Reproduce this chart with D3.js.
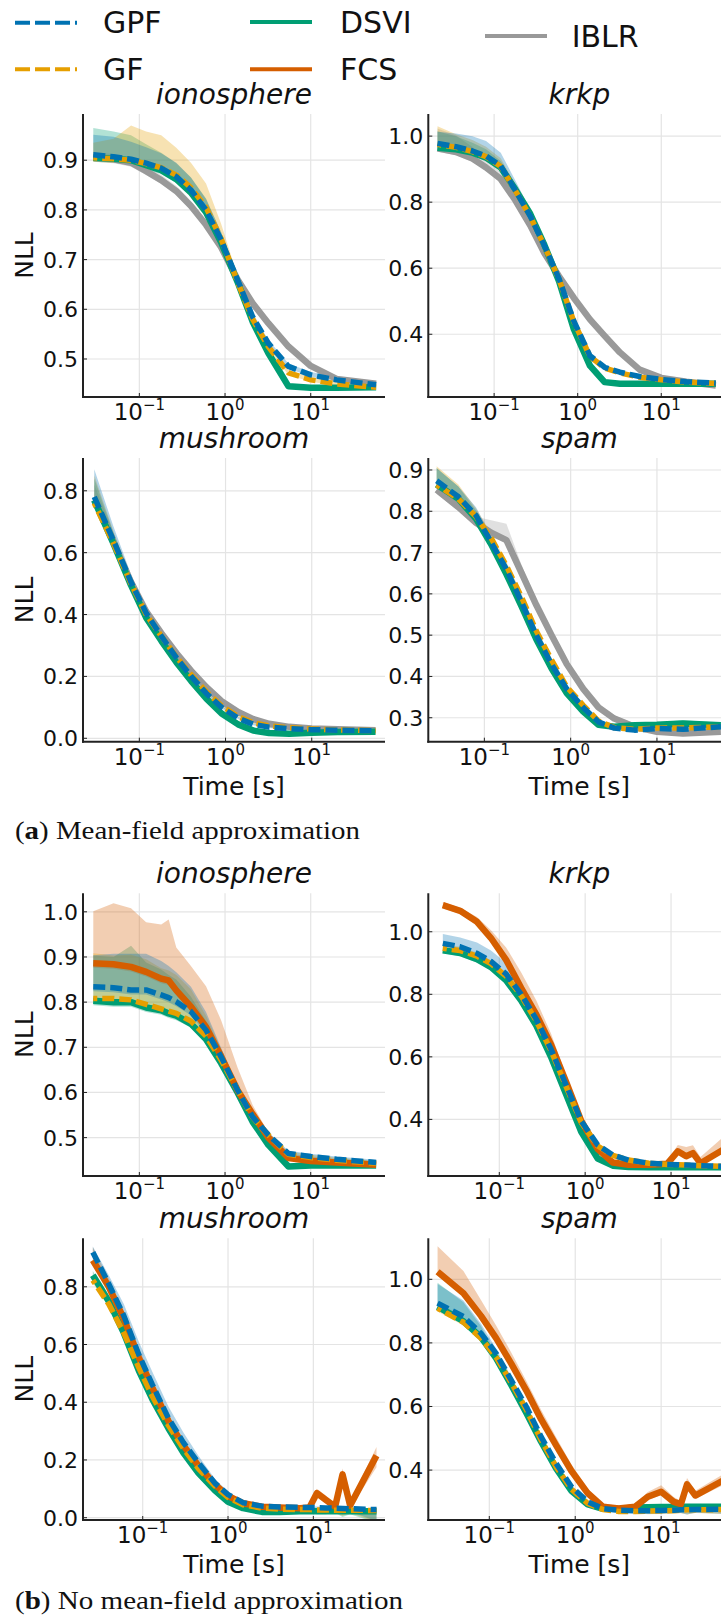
<!DOCTYPE html>
<html>
<head>
<meta charset="utf-8">
<script src="https://cdnjs.cloudflare.com/ajax/libs/d3/7.8.5/d3.min.js"></script>
<style>
body { margin: 0; background: #fff; }
text { font-family: "DejaVu Sans", sans-serif; fill: #111; }
</style>
</head>
<body>
<script>
// ---- data (time in seconds, NLL) ----
var ionoA_t    = [0.029, 0.05, 0.08, 0.12, 0.18, 0.27, 0.4, 0.6, 0.9, 1.4, 2.1, 3.2, 5.5, 10, 20, 58];
var ionoA_GPF  = [0.911, 0.907, 0.902, 0.894, 0.884, 0.867, 0.840, 0.800, 0.740, 0.659, 0.585, 0.532, 0.485, 0.468, 0.458, 0.448];
var ionoA_GPF_up = [0.04, 0.04, 0.035, 0.032, 0.03, 0.028, 0.025, 0.022, 0.015, 0.01, 0.008, 0.006, 0.006, 0.006, 0.006, 0.006];
var ionoA_GF   = [0.905, 0.903, 0.900, 0.893, 0.885, 0.870, 0.845, 0.805, 0.742, 0.655, 0.580, 0.525, 0.472, 0.458, 0.450, 0.443];
var ionoA_GF_up = [0.03, 0.04, 0.07, 0.065, 0.065, 0.055, 0.05, 0.048, 0.03, 0.012, 0.008, 0.006, 0.006, 0.005, 0.005, 0.005];
var ionoA_DSVI = [0.905, 0.903, 0.900, 0.890, 0.880, 0.862, 0.835, 0.795, 0.735, 0.655, 0.575, 0.512, 0.445, 0.442, 0.442, 0.443];
var ionoA_DSVI_up = [0.06, 0.055, 0.05, 0.042, 0.035, 0.032, 0.03, 0.028, 0.02, 0.01, 0.006, 0.004, 0.003, 0.003, 0.003, 0.003];
var ionoA_IBLR = [0.905, 0.902, 0.895, 0.878, 0.860, 0.838, 0.808, 0.770, 0.725, 0.660, 0.612, 0.572, 0.525, 0.486, 0.460, 0.450];
var ionoA_IBLR_up = [0.012, 0.01, 0.01, 0.01, 0.01, 0.01, 0.01, 0.008, 0.006, 0.005, 0.005, 0.005, 0.005, 0.005, 0.005, 0.005];
var ionoA_dn   = [0.008, 0.008, 0.008, 0.008, 0.008, 0.008, 0.008, 0.006, 0.006, 0.005, 0.005, 0.004, 0.004, 0.004, 0.004, 0.004];

var krkpA_t    = [0.021, 0.035, 0.055, 0.08, 0.12, 0.18, 0.27, 0.4, 0.6, 0.9, 1.4, 2.1, 3.2, 5.5, 10, 20, 45];
var krkpA_GPF  = [0.978, 0.968, 0.955, 0.940, 0.910, 0.835, 0.758, 0.668, 0.567, 0.440, 0.335, 0.300, 0.285, 0.272, 0.263, 0.256, 0.252];
var krkpA_GPF_up = [0.035, 0.04, 0.045, 0.045, 0.04, 0.03, 0.02, 0.012, 0.008, 0.006, 0.005, 0.004, 0.004, 0.003, 0.003, 0.003, 0.003];
var krkpA_GF   = [0.975, 0.966, 0.953, 0.938, 0.908, 0.834, 0.757, 0.667, 0.565, 0.438, 0.333, 0.298, 0.283, 0.270, 0.262, 0.255, 0.251];
var krkpA_GF_up = [0.055, 0.04, 0.035, 0.03, 0.025, 0.02, 0.015, 0.01, 0.008, 0.006, 0.005, 0.004, 0.004, 0.003, 0.003, 0.003, 0.003];
var krkpA_DSVI = [0.965, 0.960, 0.950, 0.935, 0.905, 0.838, 0.765, 0.670, 0.560, 0.415, 0.305, 0.255, 0.250, 0.250, 0.250, 0.250, 0.250];
var krkpA_DSVI_up = [0.05, 0.04, 0.03, 0.025, 0.02, 0.015, 0.01, 0.008, 0.006, 0.005, 0.004, 0.003, 0.003, 0.003, 0.003, 0.003, 0.003];
var krkpA_IBLR = [0.963, 0.952, 0.932, 0.905, 0.870, 0.805, 0.730, 0.645, 0.575, 0.510, 0.445, 0.395, 0.345, 0.293, 0.268, 0.256, 0.245];
var krkpA_IBLR_up = [0.06, 0.05, 0.035, 0.025, 0.02, 0.015, 0.01, 0.008, 0.006, 0.005, 0.005, 0.005, 0.005, 0.005, 0.005, 0.005, 0.005];
var krkpA_dn   = [0.01, 0.01, 0.01, 0.008, 0.008, 0.006, 0.006, 0.005, 0.005, 0.004, 0.004, 0.003, 0.003, 0.003, 0.003, 0.003, 0.003];

var mushA_t    = [0.03, 0.05, 0.08, 0.12, 0.18, 0.27, 0.4, 0.6, 0.9, 1.4, 2.1, 3.2, 5.5, 10, 20, 55];
var mushA_GPF  = [0.78, 0.64, 0.505, 0.405, 0.33, 0.26, 0.20, 0.145, 0.10, 0.065, 0.045, 0.036, 0.031, 0.028, 0.026, 0.024];
var mushA_GPF_up = [0.09, 0.045, 0.025, 0.015, 0.012, 0.01, 0.008, 0.006, 0.005, 0.004, 0.003, 0.003, 0.003, 0.003, 0.003, 0.003];
var mushA_GF   = [0.76, 0.63, 0.50, 0.40, 0.33, 0.262, 0.205, 0.15, 0.105, 0.07, 0.05, 0.04, 0.034, 0.03, 0.027, 0.025];
var mushA_GF_up = [0.09, 0.04, 0.02, 0.012, 0.01, 0.008, 0.006, 0.005, 0.004, 0.003, 0.003, 0.003, 0.003, 0.003, 0.003, 0.003];
var mushA_DSVI = [0.77, 0.63, 0.495, 0.39, 0.315, 0.245, 0.185, 0.128, 0.08, 0.045, 0.025, 0.017, 0.015, 0.018, 0.02, 0.021];
var mushA_DSVI_up = [0.07, 0.035, 0.02, 0.012, 0.01, 0.008, 0.008, 0.008, 0.008, 0.006, 0.005, 0.004, 0.004, 0.004, 0.004, 0.004];
var mushA_IBLR = [0.77, 0.635, 0.505, 0.41, 0.34, 0.275, 0.218, 0.165, 0.12, 0.085, 0.062, 0.047, 0.037, 0.032, 0.029, 0.026];
var mushA_IBLR_up = [0.05, 0.03, 0.015, 0.012, 0.012, 0.012, 0.012, 0.012, 0.01, 0.008, 0.006, 0.005, 0.004, 0.004, 0.004, 0.004];
var mushA_dn   = [0.015, 0.01, 0.008, 0.006, 0.005, 0.005, 0.004, 0.004, 0.004, 0.003, 0.003, 0.003, 0.003, 0.003, 0.003, 0.003];

var spamA_t    = [0.028, 0.05, 0.08, 0.12, 0.18, 0.27, 0.4, 0.6, 0.9, 1.4, 2.1, 3.2, 5.5, 10, 20, 55];
var spamA_GPF  = [0.874, 0.835, 0.79, 0.725, 0.66, 0.58, 0.50, 0.43, 0.37, 0.325, 0.29, 0.275, 0.27, 0.274, 0.272, 0.278];
var spamA_GPF_up = [0.03, 0.025, 0.02, 0.015, 0.01, 0.008, 0.006, 0.005, 0.004, 0.004, 0.004, 0.004, 0.004, 0.004, 0.004, 0.004];
var spamA_GF   = [0.864, 0.83, 0.787, 0.735, 0.668, 0.592, 0.51, 0.44, 0.375, 0.33, 0.292, 0.276, 0.272, 0.275, 0.275, 0.278];
var spamA_GF_up = [0.045, 0.035, 0.02, 0.012, 0.01, 0.008, 0.006, 0.005, 0.004, 0.004, 0.004, 0.004, 0.004, 0.004, 0.004, 0.004];
var spamA_DSVI = [0.865, 0.83, 0.782, 0.72, 0.648, 0.57, 0.49, 0.42, 0.36, 0.315, 0.283, 0.278, 0.282, 0.283, 0.286, 0.282];
var spamA_DSVI_up = [0.04, 0.03, 0.02, 0.012, 0.008, 0.006, 0.005, 0.005, 0.004, 0.004, 0.004, 0.005, 0.006, 0.006, 0.008, 0.006];
var spamA_IBLR = [0.852, 0.81, 0.772, 0.748, 0.73, 0.65, 0.573, 0.50, 0.43, 0.37, 0.325, 0.298, 0.278, 0.266, 0.262, 0.266];
var spamA_IBLR_up = [0.02, 0.015, 0.015, 0.03, 0.04, 0.02, 0.012, 0.01, 0.008, 0.008, 0.008, 0.008, 0.008, 0.008, 0.008, 0.008];
var spamA_dn   = [0.01, 0.008, 0.006, 0.005, 0.005, 0.004, 0.004, 0.004, 0.004, 0.004, 0.004, 0.004, 0.004, 0.004, 0.004, 0.004];

var ionoB_t    = [0.029, 0.05, 0.08, 0.12, 0.18, 0.22, 0.27, 0.4, 0.6, 0.9, 1.4, 2.1, 3.2, 5.5, 10, 20, 58];
var ionoB_GPF  = [0.834, 0.832, 0.827, 0.827, 0.816, 0.81, 0.801, 0.779, 0.738, 0.679, 0.605, 0.546, 0.506, 0.465, 0.458, 0.452, 0.445];
var ionoB_GPF_up = [0.07, 0.075, 0.08, 0.08, 0.075, 0.07, 0.065, 0.055, 0.04, 0.02, 0.01, 0.008, 0.006, 0.006, 0.006, 0.006, 0.006];
var ionoB_GF   = [0.808, 0.808, 0.805, 0.795, 0.785, 0.78, 0.775, 0.758, 0.725, 0.672, 0.605, 0.545, 0.506, 0.463, 0.456, 0.450, 0.443];
var ionoB_GF_up = [0.1, 0.095, 0.1, 0.1, 0.09, 0.09, 0.085, 0.07, 0.045, 0.025, 0.012, 0.008, 0.006, 0.006, 0.006, 0.006, 0.006];
var ionoB_DSVI = [0.803, 0.80, 0.80, 0.788, 0.782, 0.775, 0.770, 0.752, 0.718, 0.665, 0.600, 0.535, 0.484, 0.436, 0.438, 0.438, 0.438];
var ionoB_DSVI_up = [0.1, 0.1, 0.125, 0.1, 0.09, 0.085, 0.08, 0.06, 0.04, 0.025, 0.01, 0.008, 0.006, 0.006, 0.006, 0.006, 0.006];
var ionoB_FCS  = [0.886, 0.884, 0.878, 0.867, 0.852, 0.848, 0.826, 0.79, 0.745, 0.68, 0.605, 0.552, 0.50, 0.455, 0.448, 0.445, 0.44];
var ionoB_FCS_up = [0.115, 0.135, 0.13, 0.11, 0.12, 0.135, 0.095, 0.09, 0.09, 0.08, 0.05, 0.02, 0.012, 0.01, 0.01, 0.008, 0.008];
var ionoB_dn   = [0.01, 0.01, 0.01, 0.01, 0.01, 0.01, 0.01, 0.008, 0.008, 0.006, 0.005, 0.005, 0.004, 0.004, 0.004, 0.004, 0.004];

var krkpB_t    = [0.022, 0.035, 0.055, 0.08, 0.12, 0.18, 0.27, 0.4, 0.6, 0.9, 1.4, 2.1, 3.2, 5.5, 9, 12, 15, 18, 22, 40];
var krkpB_GPF  = [0.963, 0.952, 0.931, 0.905, 0.865, 0.80, 0.72, 0.625, 0.51, 0.395, 0.318, 0.286, 0.27, 0.26, 0.256, 0.255, 0.254, 0.253, 0.252, 0.25];
var krkpB_GPF_up = [0.03, 0.03, 0.035, 0.035, 0.035, 0.03, 0.02, 0.012, 0.008, 0.006, 0.005, 0.004, 0.004, 0.004, 0.004, 0.004, 0.004, 0.004, 0.004, 0.004];
var krkpB_GF   = [0.947, 0.94, 0.922, 0.898, 0.858, 0.795, 0.715, 0.62, 0.505, 0.39, 0.315, 0.285, 0.27, 0.26, 0.256, 0.255, 0.254, 0.253, 0.252, 0.25];
var krkpB_GF_up = [0.012, 0.012, 0.012, 0.01, 0.01, 0.01, 0.008, 0.006, 0.005, 0.005, 0.004, 0.004, 0.004, 0.004, 0.004, 0.004, 0.004, 0.004, 0.004, 0.004];
var krkpB_DSVI = [0.941, 0.932, 0.912, 0.887, 0.845, 0.78, 0.70, 0.60, 0.48, 0.36, 0.275, 0.252, 0.248, 0.247, 0.247, 0.247, 0.247, 0.247, 0.247, 0.247];
var krkpB_DSVI_up = [0.01, 0.01, 0.01, 0.01, 0.01, 0.008, 0.008, 0.006, 0.005, 0.005, 0.004, 0.003, 0.003, 0.003, 0.003, 0.003, 0.003, 0.003, 0.003, 0.003];
var krkpB_FCS  = [1.085, 1.067, 1.032, 0.98, 0.91, 0.82, 0.735, 0.64, 0.52, 0.395, 0.305, 0.262, 0.255, 0.255, 0.258, 0.298, 0.282, 0.292, 0.26, 0.302];
var krkpB_FCS_up = [0.01, 0.01, 0.015, 0.025, 0.04, 0.05, 0.045, 0.035, 0.02, 0.01, 0.008, 0.006, 0.006, 0.006, 0.01, 0.02, 0.03, 0.025, 0.02, 0.04];
var krkpB_dn   = [0.01, 0.01, 0.01, 0.008, 0.008, 0.008, 0.006, 0.005, 0.005, 0.004, 0.004, 0.003, 0.003, 0.003, 0.003, 0.008, 0.008, 0.008, 0.008, 0.01];

var mushB_t    = [0.026, 0.04, 0.06, 0.09, 0.13, 0.2, 0.3, 0.45, 0.7, 1.0, 1.5, 2.5, 4, 7, 9, 11, 14, 18, 22, 27, 55];
var mushB_GPF  = [0.92, 0.81, 0.70, 0.565, 0.46, 0.345, 0.26, 0.19, 0.12, 0.08, 0.052, 0.04, 0.037, 0.036, 0.035, 0.035, 0.034, 0.033, 0.032, 0.031, 0.028];
var mushB_GPF_up = [0.02, 0.03, 0.04, 0.045, 0.045, 0.04, 0.035, 0.025, 0.015, 0.01, 0.006, 0.005, 0.004, 0.004, 0.004, 0.004, 0.004, 0.004, 0.004, 0.004, 0.004];
var mushB_GF   = [0.823, 0.74, 0.64, 0.52, 0.42, 0.32, 0.24, 0.17, 0.11, 0.07, 0.045, 0.033, 0.03, 0.028, 0.028, 0.027, 0.027, 0.026, 0.026, 0.026, 0.025];
var mushB_GF_up = [0.015, 0.015, 0.015, 0.015, 0.012, 0.01, 0.01, 0.008, 0.006, 0.005, 0.004, 0.003, 0.003, 0.003, 0.003, 0.003, 0.003, 0.003, 0.003, 0.003, 0.003];
var mushB_DSVI = [0.84, 0.75, 0.64, 0.51, 0.41, 0.31, 0.225, 0.155, 0.095, 0.055, 0.033, 0.02, 0.02, 0.022, 0.022, 0.022, 0.022, 0.022, 0.022, 0.022, 0.022];
var mushB_DSVI_up = [0.015, 0.015, 0.012, 0.012, 0.01, 0.01, 0.008, 0.006, 0.005, 0.004, 0.003, 0.003, 0.003, 0.003, 0.003, 0.003, 0.003, 0.003, 0.003, 0.003, 0.003];
var mushB_FCS  = [0.892, 0.80, 0.69, 0.555, 0.45, 0.335, 0.25, 0.18, 0.115, 0.075, 0.05, 0.038, 0.035, 0.033, 0.035, 0.085, 0.062, 0.038, 0.15, 0.042, 0.215];
var mushB_FCS_up = [0.045, 0.03, 0.02, 0.02, 0.02, 0.02, 0.015, 0.012, 0.01, 0.008, 0.006, 0.005, 0.005, 0.005, 0.01, 0.015, 0.015, 0.01, 0.02, 0.015, 0.03];
var mushB_dn   = [0.01, 0.01, 0.01, 0.008, 0.008, 0.006, 0.006, 0.005, 0.004, 0.004, 0.003, 0.003, 0.003, 0.003, 0.005, 0.01, 0.01, 0.005, 0.02, 0.01, 0.04];

var spamB_t    = [0.025, 0.05, 0.08, 0.12, 0.18, 0.27, 0.4, 0.6, 0.9, 1.4, 2.1, 3.2, 5, 7, 10, 14, 17, 20, 25, 55];
var spamB_GPF  = [0.925, 0.883, 0.830, 0.767, 0.683, 0.599, 0.505, 0.421, 0.348, 0.300, 0.279, 0.274, 0.272, 0.272, 0.273, 0.274, 0.275, 0.275, 0.276, 0.277];
var spamB_GPF_up = [0.06, 0.05, 0.03, 0.015, 0.01, 0.008, 0.006, 0.005, 0.005, 0.004, 0.004, 0.004, 0.004, 0.004, 0.004, 0.004, 0.004, 0.004, 0.004, 0.004];
var spamB_GF   = [0.909, 0.865, 0.815, 0.755, 0.675, 0.59, 0.495, 0.41, 0.34, 0.295, 0.276, 0.27, 0.27, 0.271, 0.272, 0.273, 0.274, 0.275, 0.275, 0.276];
var spamB_GF_up = [0.02, 0.015, 0.01, 0.008, 0.006, 0.005, 0.005, 0.004, 0.004, 0.004, 0.004, 0.004, 0.004, 0.004, 0.004, 0.004, 0.004, 0.004, 0.004, 0.004];
var spamB_DSVI = [0.914, 0.868, 0.818, 0.752, 0.668, 0.58, 0.49, 0.405, 0.335, 0.292, 0.278, 0.278, 0.282, 0.283, 0.284, 0.284, 0.285, 0.285, 0.285, 0.285];
var spamB_DSVI_up = [0.075, 0.06, 0.035, 0.015, 0.01, 0.008, 0.006, 0.005, 0.005, 0.004, 0.004, 0.004, 0.004, 0.004, 0.004, 0.004, 0.004, 0.004, 0.004, 0.004];
var spamB_FCS  = [1.024, 0.956, 0.885, 0.815, 0.735, 0.65, 0.56, 0.478, 0.398, 0.327, 0.285, 0.279, 0.285, 0.316, 0.332, 0.30, 0.293, 0.355, 0.32, 0.37];
var spamB_FCS_up = [0.08, 0.07, 0.05, 0.04, 0.035, 0.03, 0.03, 0.025, 0.02, 0.015, 0.01, 0.008, 0.008, 0.015, 0.02, 0.015, 0.01, 0.02, 0.015, 0.02];
var spamB_dn   = [0.01, 0.01, 0.008, 0.008, 0.006, 0.006, 0.005, 0.005, 0.004, 0.004, 0.004, 0.004, 0.004, 0.01, 0.01, 0.01, 0.01, 0.015, 0.01, 0.015];

// axis limits and ticks
var datasets = ["ionosphere", "krkp", "mushroom", "spam", "ionosphere", "krkp", "mushroom", "spam"];
var xLimits = [[0.022, 73.6], [0.0163, 67.0], [0.0222, 70.8], [0.0224, 70.8],
               [0.022, 73.6], [0.0149, 49.0], [0.01995, 69.2], [0.0195, 63.8]];
var yLimits = [[0.4235, 0.993], [0.21, 1.067], [-0.011, 0.906], [0.242, 0.929],
               [0.415, 1.041], [0.219, 1.123], [-0.008, 0.968], [0.243, 1.129]];
var yTicks = [[0.5, 0.6, 0.7, 0.8, 0.9], [0.4, 0.6, 0.8, 1.0], [0, 0.2, 0.4, 0.6, 0.8], [0.3, 0.4, 0.5, 0.6, 0.7, 0.8, 0.9],
              [0.5, 0.6, 0.7, 0.8, 0.9, 1.0], [0.4, 0.6, 0.8, 1.0], [0, 0.2, 0.4, 0.6, 0.8], [0.4, 0.6, 0.8, 1.0]];
var xTicks = [0.1, 1, 10];
var xTickExp = ["\u22121", "0", "1"];

var colors = { GPF: "#0072B2", GF: "#E69F00", DSVI: "#009E73", FCS: "#D55E00", IBLR: "#999999" };

var panels = [
  { t: ionoA_t, dn: ionoA_dn, series: [["IBLR", ionoA_IBLR, ionoA_IBLR_up], ["DSVI", ionoA_DSVI, ionoA_DSVI_up], ["GF", ionoA_GF, ionoA_GF_up], ["GPF", ionoA_GPF, ionoA_GPF_up]] },
  { t: krkpA_t, dn: krkpA_dn, series: [["IBLR", krkpA_IBLR, krkpA_IBLR_up], ["DSVI", krkpA_DSVI, krkpA_DSVI_up], ["GF", krkpA_GF, krkpA_GF_up], ["GPF", krkpA_GPF, krkpA_GPF_up]] },
  { t: mushA_t, dn: mushA_dn, series: [["IBLR", mushA_IBLR, mushA_IBLR_up], ["DSVI", mushA_DSVI, mushA_DSVI_up], ["GF", mushA_GF, mushA_GF_up], ["GPF", mushA_GPF, mushA_GPF_up]] },
  { t: spamA_t, dn: spamA_dn, series: [["IBLR", spamA_IBLR, spamA_IBLR_up], ["DSVI", spamA_DSVI, spamA_DSVI_up], ["GF", spamA_GF, spamA_GF_up], ["GPF", spamA_GPF, spamA_GPF_up]] },
  { t: ionoB_t, dn: ionoB_dn, series: [["DSVI", ionoB_DSVI, ionoB_DSVI_up], ["FCS", ionoB_FCS, ionoB_FCS_up], ["GF", ionoB_GF, ionoB_GF_up], ["GPF", ionoB_GPF, ionoB_GPF_up]] },
  { t: krkpB_t, dn: krkpB_dn, series: [["DSVI", krkpB_DSVI, krkpB_DSVI_up], ["FCS", krkpB_FCS, krkpB_FCS_up], ["GF", krkpB_GF, krkpB_GF_up], ["GPF", krkpB_GPF, krkpB_GPF_up]] },
  { t: mushB_t, dn: mushB_dn, series: [["DSVI", mushB_DSVI, mushB_DSVI_up], ["FCS", mushB_FCS, mushB_FCS_up], ["GF", mushB_GF, mushB_GF_up], ["GPF", mushB_GPF, mushB_GPF_up]] },
  { t: spamB_t, dn: spamB_dn, series: [["DSVI", spamB_DSVI, spamB_DSVI_up], ["FCS", spamB_FCS, spamB_FCS_up], ["GF", spamB_GF, spamB_GF_up], ["GPF", spamB_GPF, spamB_GPF_up]] }
];

// ---- layout ----
var W = 721, H = 1616;
var colLeft = [83, 428.3], panelW = 302;
var rowTop = [114, 458, 893.3, 1238.3], rowBot = [397, 741.7, 1176, 1520];

var svg = d3.select("body").append("svg")
    .attr("width", W)
    .attr("height", H);

// legend
var legend = [
  ["GPF", 15, 22.7, true, 103, 33.3],
  ["GF", 15, 69.3, true, 103, 80],
  ["DSVI", 250, 22, false, 340, 33],
  ["FCS", 250, 69.3, false, 340, 80],
  ["IBLR", 485, 36, false, 571.7, 46.7]
];
legend.forEach(function(l) {
  svg.append("line")
    .attr("x1", l[1]).attr("x2", l[1] + 62)
    .attr("y1", l[2]).attr("y2", l[2])
    .attr("stroke", colors[l[0]])
    .attr("stroke-width", 4)
    .attr("stroke-dasharray", l[3] ? "15,5" : null);
  svg.append("text")
    .attr("x", l[4]).attr("y", l[5])
    .attr("font-size", 30)
    .text(l[0]);
});

var fmt = d3.format(".1f");

panels.forEach(function(p, i) {
  var col = i % 2, row = Math.floor(i / 2);
  var x0 = colLeft[col], x1 = x0 + panelW, y0 = rowTop[row], y1 = rowBot[row];
  var x = d3.scaleLog().domain(xLimits[i]).range([x0, x1]);
  var y = d3.scaleLinear().domain(yLimits[i]).range([y1, y0]);
  var g = svg.append("g");

  g.append("clipPath").attr("id", "clip" + i)
    .append("rect").attr("x", x0).attr("y", y0).attr("width", panelW).attr("height", y1 - y0);

  // grid
  g.selectAll(".gy").data(yTicks[i]).enter().append("line")
    .attr("x1", x0).attr("x2", x1)
    .attr("y1", function(d) { return y(d); }).attr("y2", function(d) { return y(d); })
    .attr("stroke", "#e4e4e4").attr("stroke-width", 1.2);
  g.selectAll(".gx").data(xTicks).enter().append("line")
    .attr("x1", function(d) { return x(d); }).attr("x2", function(d) { return x(d); })
    .attr("y1", y0).attr("y2", y1)
    .attr("stroke", "#e4e4e4").attr("stroke-width", 1.2);

  var plot = g.append("g").attr("clip-path", "url(#clip" + i + ")");

  // bands
  p.series.forEach(function(s) {
    var pts = p.t.map(function(t, k) { return { t: t, m: s[1][k], up: s[2][k], dn: p.dn[k] }; });
    var area = d3.area()
      .x(function(d) { return x(d.t); })
      .y0(function(d) { return y(d.m - d.dn); })
      .y1(function(d) { return y(d.m + d.up); });
    plot.append("path")
      .attr("d", area(pts))
      .attr("fill", colors[s[0]])
      .attr("fill-opacity", 0.3);
  });

  // lines
  p.series.forEach(function(s) {
    var pts = p.t.map(function(t, k) { return { t: t, m: s[1][k] }; });
    var line = d3.line()
      .x(function(d) { return x(d.t); })
      .y(function(d) { return y(d.m); });
    var dashed = (s[0] == "GPF" || s[0] == "GF");
    plot.append("path")
      .attr("d", line(pts))
      .attr("fill", "none")
      .attr("stroke", colors[s[0]])
      .attr("stroke-width", dashed ? 5.5 : 6.5)
      .attr("stroke-linejoin", "round")
      .attr("stroke-dasharray", dashed ? "12,5" : null)
      .attr("stroke-dashoffset", s[0] == "GF" ? 8 : 0);
  });

  // spines and ticks
  g.append("line").attr("x1", x0).attr("x2", x0).attr("y1", y0).attr("y2", y1 + 1)
    .attr("stroke", "#222").attr("stroke-width", 2);
  g.append("line").attr("x1", x0 - 1).attr("x2", x1).attr("y1", y1).attr("y2", y1)
    .attr("stroke", "#222").attr("stroke-width", 2);

  yTicks[i].forEach(function(v) {
    g.append("line").attr("x1", x0).attr("x2", x0 + 4).attr("y1", y(v)).attr("y2", y(v))
      .attr("stroke", "#222").attr("stroke-width", 1);
    g.append("text")
      .attr("x", x0 - 5).attr("y", y(v) + 8)
      .attr("text-anchor", "end")
      .attr("font-size", 22)
      .text(fmt(v));
  });

  xTicks.forEach(function(v, k) {
    g.append("line").attr("x1", x(v)).attr("x2", x(v)).attr("y1", y1).attr("y2", y1 - 4)
      .attr("stroke", "#222").attr("stroke-width", 1);
    var tx = g.append("text")
      .attr("x", x(v)).attr("y", y1 + 23)
      .attr("text-anchor", "middle")
      .attr("font-size", 23);
    tx.append("tspan").text("10");
    tx.append("tspan").attr("dy", -10).attr("font-size", 15).text(xTickExp[k]);
  });

  // title
  g.append("text")
    .attr("x", x0 + panelW / 2).attr("y", y0 - 10)
    .attr("text-anchor", "middle")
    .attr("font-size", 28)
    .attr("font-style", "italic")
    .text(datasets[i]);

  if (col == 0) {
    g.append("text")
      .attr("transform", "translate(" + 33 + "," + ((y0 + y1) / 2) + ") rotate(-90)")
      .attr("text-anchor", "middle")
      .attr("font-size", 25)
      .text("NLL");
  }
  if (row == 1 || row == 3) {
    g.append("text")
      .attr("x", x0 + panelW / 2).attr("y", y1 + 53)
      .attr("text-anchor", "middle")
      .attr("font-size", 25)
      .text("Time [s]");
  }
});

// captions
var captions = [["a", ") Mean-field approximation", 839, 345], ["b", ") No mean-field approximation", 1609, 388]];
captions.forEach(function(c) {
  var t = svg.append("text")
    .attr("x", 15).attr("y", c[2])
    .attr("font-size", 26)
    .attr("textLength", c[3])
    .attr("lengthAdjust", "spacingAndGlyphs")
    .style("font-family", "'Liberation Serif', serif");
  t.append("tspan").text("(");
  t.append("tspan").attr("font-weight", "bold").text(c[0]);
  t.append("tspan").text(c[1]);
});
</script>
</body>
</html>
